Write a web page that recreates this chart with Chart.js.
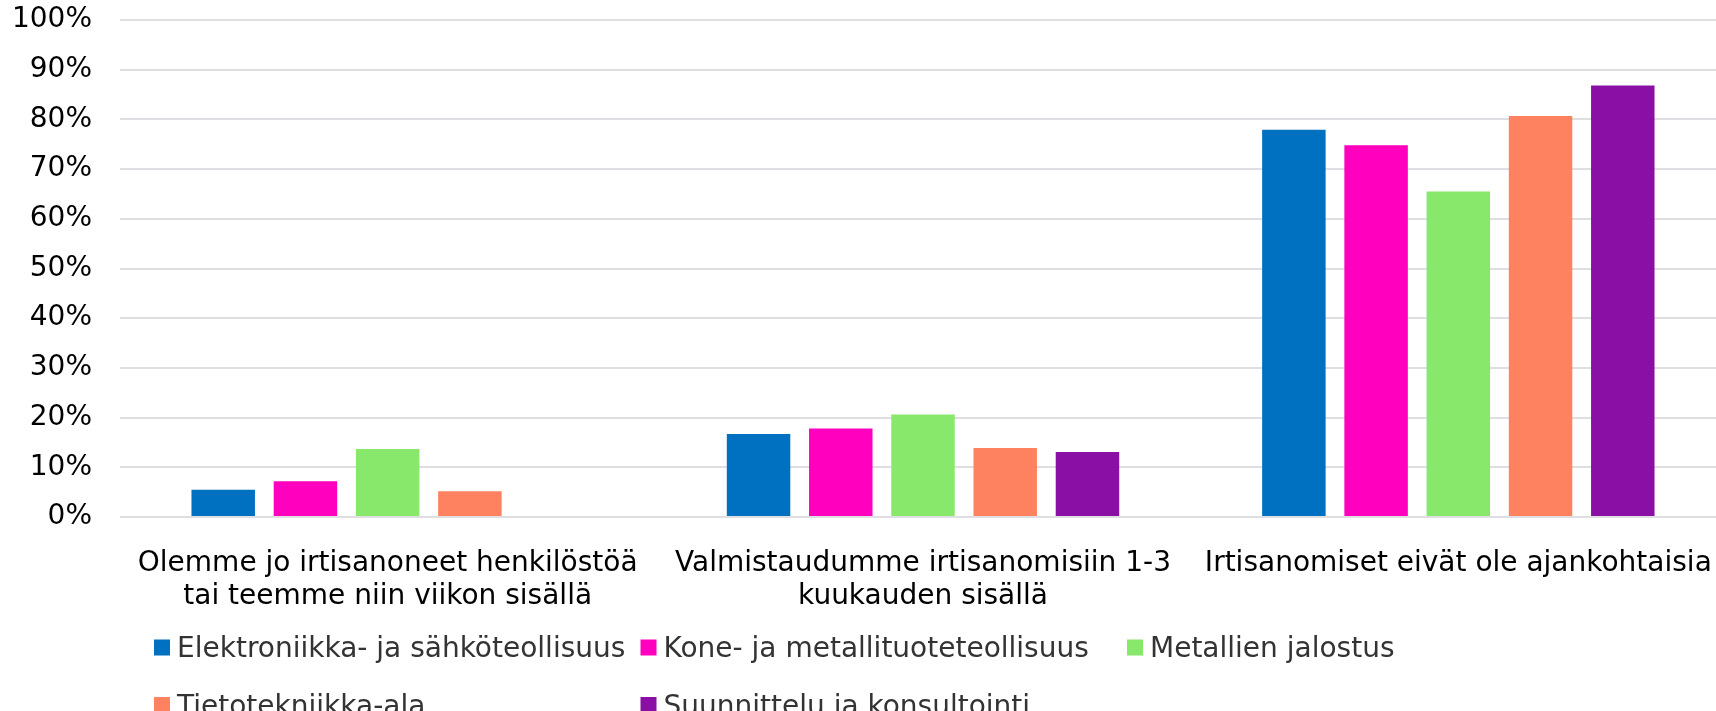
<!DOCTYPE html>
<html lang="fi">
<head>
    <meta charset="UTF-8">
    <title>Irtisanomiset toimialoittain</title>
    <style>
        html, body {
            margin: 0;
            padding: 0;
            background: #ffffff;
            overflow: hidden;
        }
        canvas {
            display: block;
        }
    </style>
</head>
<body>
    <canvas id="chart" width="1730" height="711"></canvas>

    <script src="https://cdn.jsdelivr.net/npm/chart.js"></script>
    <script>
        // Kategoriat (x-akseli)
        const categories = [
            ['Olemme jo irtisanoneet henkilöstöä', 'tai teemme niin viikon sisällä'],
            ['Valmistaudumme irtisanomisiin 1-3', 'kuukauden sisällä'],
            'Irtisanomiset eivät ole ajankohtaisia'
        ];

        // Toimialat ja niiden osuudet (%)
        const seriesNames = [
            'Elektroniikka- ja sähköteollisuus',
            'Kone- ja metallituoteteollisuus',
            'Metallien jalostus',
            'Tietotekniikka-ala',
            'Suunnittelu ja konsultointi'
        ];
        const seriesColors = ['#0070c0', '#ff00bf', '#87e86b', '#ff8260', '#8a10a5'];

        const elektroniikka = [5.5, 16.7, 77.9];
        const kone = [7.2, 17.8, 74.8];
        const metallit = [13.7, 20.6, 65.5];
        const tietotekniikka = [5.2, 13.9, 80.7];
        const suunnittelu = [null, 13.1, 86.8];

        const seriesValues = [elektroniikka, kone, metallit, tietotekniikka, suunnittelu];

        const yTicks = [0, 10, 20, 30, 40, 50, 60, 70, 80, 90, 100];

        const FONT = 'DejaVu Sans, Verdana, sans-serif';

        // Selite kolmeen sarakkeeseen kaavion alle
        const gridLegend = {
            id: 'gridLegend',
            afterDraw(chart) {
                const ctx = chart.ctx;
                const startX = 154;
                const colW = 486.5;
                const rowTop = [639.5, 697];
                const box = 16;
                ctx.save();
                ctx.font = '28px ' + FONT;
                ctx.textBaseline = 'alphabetic';
                ctx.textAlign = 'left';
                chart.data.datasets.forEach((ds, i) => {
                    const col = i % 3;
                    const row = Math.floor(i / 3);
                    const x = startX + col * colW;
                    const y = rowTop[row];
                    ctx.fillStyle = ds.backgroundColor;
                    ctx.fillRect(x, y, box, box);
                    ctx.fillStyle = '#333333';
                    ctx.fillText(ds.label, x + 23, y + 17.5);
                });
                ctx.restore();
            }
        };

        new Chart(document.getElementById('chart'), {
            type: 'bar',
            data: {
                labels: categories,
                datasets: seriesNames.map((name, i) => ({
                    label: name,
                    data: seriesValues[i],
                    backgroundColor: seriesColors[i],
                    borderWidth: 0,
                    categoryPercentage: 0.768,
                    barPercentage: 0.772
                }))
            },
            options: {
                responsive: false,
                animation: false,
                layout: {
                    padding: { top: 20, left: 11, right: 4, bottom: 106 }
                },
                plugins: {
                    legend: { display: false },
                    tooltip: { enabled: false }
                },
                scales: {
                    x: {
                        grid: { display: false },
                        border: { display: false },
                        afterFit(scale) {
                            scale.height = 88;
                            scale.paddingLeft = 0;
                            scale.paddingRight = 0;
                        },
                        ticks: {
                            color: '#000000',
                            font: { family: FONT, size: 28, lineHeight: 1.18 },
                            padding: 22,
                            maxRotation: 0,
                            autoSkip: false
                        }
                    },
                    y: {
                        min: 0,
                        max: 100,
                        afterBuildTicks(scale) {
                            scale.ticks = yTicks.map(v => ({ value: v }));
                        },
                        afterFit(scale) {
                            scale.width = 109;
                            scale.paddingTop = 0;
                            scale.paddingBottom = 0;
                        },
                        grid: {
                            color: '#dedee3',
                            lineWidth: 2,
                            drawTicks: false
                        },
                        border: { display: false },
                        ticks: {
                            color: '#000000',
                            font: { family: FONT, size: 28 },
                            padding: 28,
                            callback: v => v + '%'
                        }
                    }
                }
            },
            plugins: [gridLegend]
        });
    </script>
</body>
</html>
